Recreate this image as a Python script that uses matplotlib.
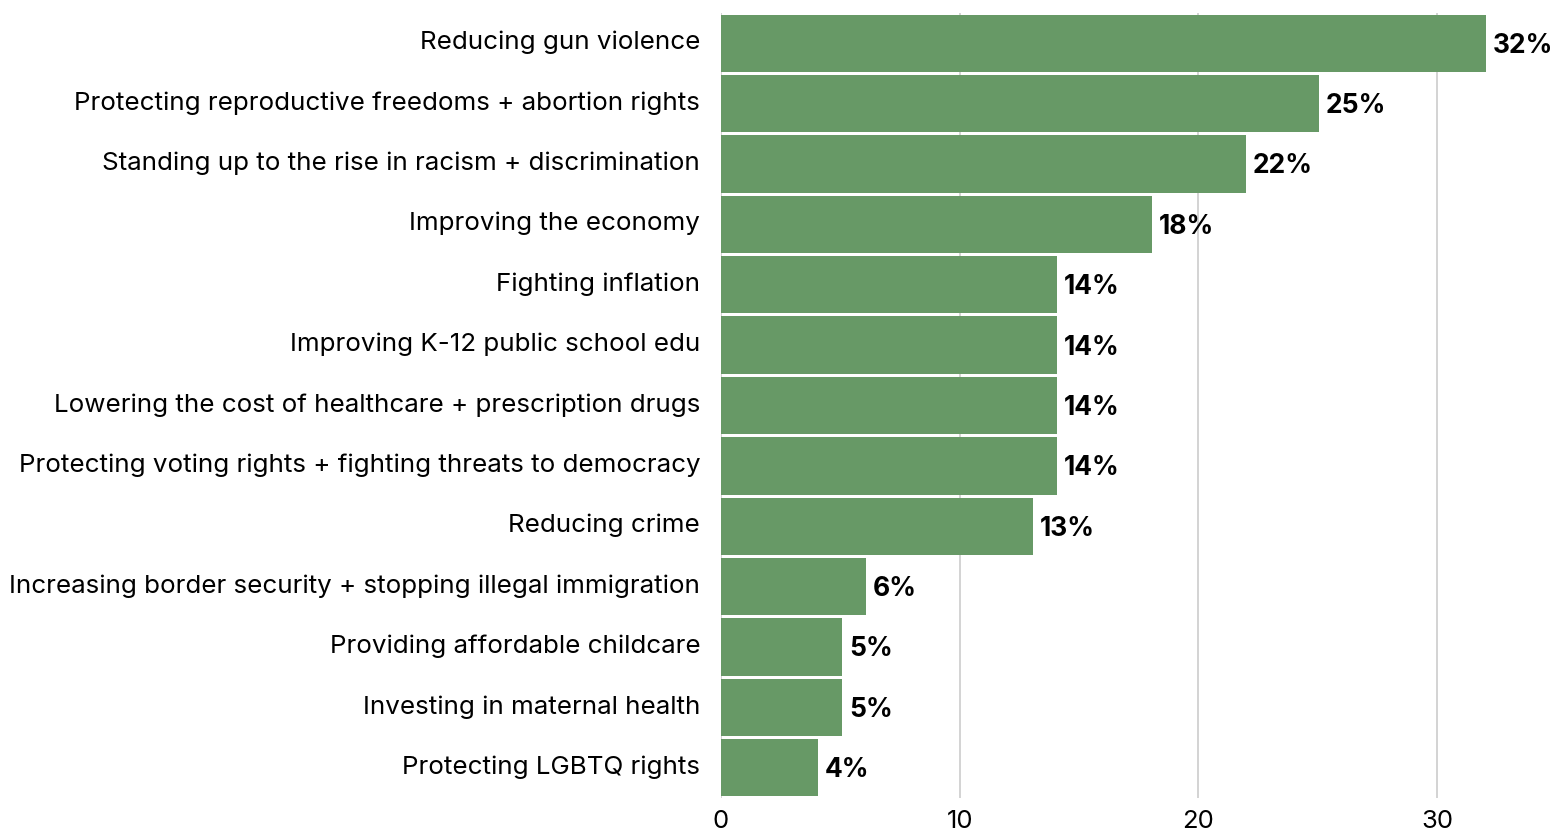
import matplotlib
matplotlib.use("Agg")
import matplotlib.pyplot as plt
from matplotlib.transforms import ScaledTranslation

categories = [
    "Reducing gun violence",
    "Protecting reproductive freedoms + abortion rights",
    "Standing up to the rise in racism + discrimination",
    "Improving the economy",
    "Fighting inflation",
    "Improving K-12 public school edu",
    "Lowering the cost of healthcare + prescription drugs",
    "Protecting voting rights + fighting threats to democracy",
    "Reducing crime",
    "Increasing border security + stopping illegal immigration",
    "Providing affordable childcare",
    "Investing in maternal health",
    "Protecting LGBTQ rights",
]
values = [32.05, 25.05, 22.0, 18.05, 14.08, 14.08, 14.08, 14.08, 13.07, 6.07, 5.07, 5.07, 4.06]
value_labels = ["32%", "25%", "22%", "18%", "14%", "14%", "14%", "14%", "13%", "6%", "5%", "5%", "4%"]
xticks = [0, 10, 20, 30]

plt.rcParams["font.family"] = ["Inter", "DejaVu Sans"]

W, H = 1553, 837
fig = plt.figure(figsize=(W / 100, H / 100), dpi=100)
fig.patch.set_facecolor("white")
ax = fig.add_axes([721 / W, 1 - 799 / H, (W - 721) / W, (799 - 14) / H])

y = list(range(len(categories)))
ax.barh(y, values, height=0.95, color="#679966", zorder=2)
ax.set_ylim(len(categories) - 0.5, -0.5)
ax.set_xlim(0, (W - 721) / 23.87)

ax.set_yticks(y)
ax.set_yticklabels(categories, fontsize=18.7, color="#000000")
ax.set_xticks(xticks)
ax.set_xticklabels([str(t) for t in xticks], fontsize=18.5, color="#000000")
ax.tick_params(axis="y", length=0, pad=15)
ax.tick_params(axis="x", length=0, pad=8)

# category labels sit a little above the bar centre in the original
shift = ScaledTranslation(0, 3 / 72, fig.dpi_scale_trans)
for lbl in ax.get_yticklabels():
    lbl.set_transform(lbl.get_transform() + shift)

for s in ax.spines.values():
    s.set_visible(False)
ax.grid(axis="x", color="#cccccc", linewidth=1.2, zorder=0)
ax.set_axisbelow(True)

for yi, v, lab in zip(y, values, value_labels):
    ax.annotate(lab, (v, yi), xytext=(5, -1), textcoords="offset points",
                ha="left", va="center", fontsize=19, fontweight="bold", color="#000000")

fig.savefig("out.png", dpi=100)
